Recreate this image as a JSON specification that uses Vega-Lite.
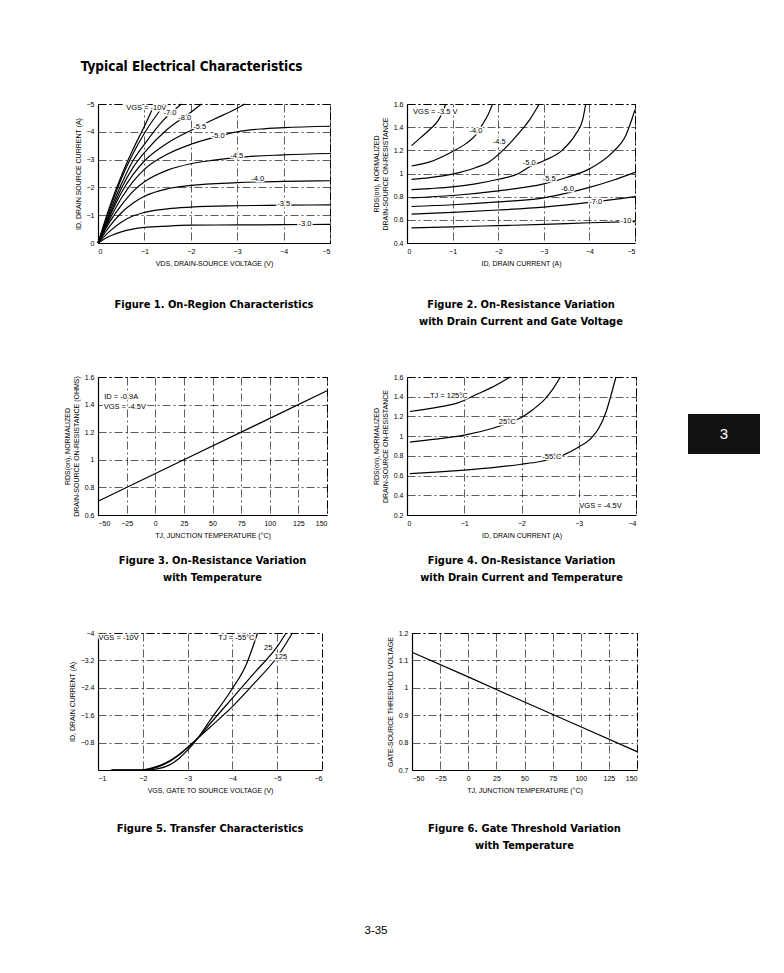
{
  "$schema": "https://vega.github.io/schema/vega-lite/v6.json",
  "background": "white",
  "padding": {"left": 62, "top": 60, "right": 0, "bottom": 0},
  "title": {"text": "Typical Electrical Characteristics", "anchor": "start", "font": "DejaVu Sans Condensed, Liberation Sans", "fontSize": 13.5, "fontWeight": "bold", "offset": 26, "dx": 18},
  "datasets": {
    "p1": [
      {"c":"a","v":0,"i":0},{"c":"a","v":-0.25,"i":-1.3},{"c":"a","v":-0.5,"i":-2.4},{"c":"a","v":-0.75,"i":-3.35},{"c":"a","v":-1.0,"i":-4.2},{"c":"a","v":-1.22,"i":-5.0},
      {"c":"b","v":0,"i":0},{"c":"b","v":-0.25,"i":-1.2},{"c":"b","v":-0.5,"i":-2.3},{"c":"b","v":-0.75,"i":-3.2},{"c":"b","v":-1.0,"i":-3.95},{"c":"b","v":-1.44,"i":-5.0},
      {"c":"c","v":0,"i":0},{"c":"c","v":-0.25,"i":-1.1},{"c":"c","v":-0.5,"i":-2.1},{"c":"c","v":-0.75,"i":-2.95},{"c":"c","v":-1.0,"i":-3.55},{"c":"c","v":-1.4,"i":-4.4},{"c":"c","v":-1.8,"i":-5.0},
      {"c":"d","v":0,"i":0},{"c":"d","v":-0.25,"i":-1.0},{"c":"d","v":-0.5,"i":-1.95},{"c":"d","v":-0.75,"i":-2.7},{"c":"d","v":-1.0,"i":-3.25},{"c":"d","v":-1.5,"i":-4.1},{"c":"d","v":-2.0,"i":-4.7},{"c":"d","v":-2.23,"i":-5.0},
      {"c":"e","v":0,"i":0},{"c":"e","v":-0.25,"i":-0.95},{"c":"e","v":-0.5,"i":-1.8},{"c":"e","v":-0.75,"i":-2.45},{"c":"e","v":-1.0,"i":-2.95},{"c":"e","v":-1.5,"i":-3.6},{"c":"e","v":-2.0,"i":-4.05},{"c":"e","v":-2.5,"i":-4.45},{"c":"e","v":-3.0,"i":-4.85},{"c":"e","v":-3.17,"i":-5.0},
      {"c":"f","v":0,"i":0},{"c":"f","v":-0.25,"i":-0.85},{"c":"f","v":-0.5,"i":-1.6},{"c":"f","v":-0.75,"i":-2.2},{"c":"f","v":-1.0,"i":-2.65},{"c":"f","v":-1.5,"i":-3.2},{"c":"f","v":-2.0,"i":-3.55},{"c":"f","v":-2.5,"i":-3.8},{"c":"f","v":-3.0,"i":-4.0},{"c":"f","v":-3.5,"i":-4.1},{"c":"f","v":-4.0,"i":-4.15},{"c":"f","v":-5.0,"i":-4.2},
      {"c":"g","v":0,"i":0},{"c":"g","v":-0.25,"i":-0.75},{"c":"g","v":-0.5,"i":-1.35},{"c":"g","v":-0.75,"i":-1.85},{"c":"g","v":-1.0,"i":-2.2},{"c":"g","v":-1.5,"i":-2.62},{"c":"g","v":-2.0,"i":-2.85},{"c":"g","v":-2.5,"i":-2.98},{"c":"g","v":-3.0,"i":-3.08},{"c":"g","v":-4.0,"i":-3.17},{"c":"g","v":-5.0,"i":-3.22},
      {"c":"h","v":0,"i":0},{"c":"h","v":-0.25,"i":-0.6},{"c":"h","v":-0.5,"i":-1.08},{"c":"h","v":-0.75,"i":-1.43},{"c":"h","v":-1.0,"i":-1.68},{"c":"h","v":-1.5,"i":-1.95},{"c":"h","v":-2.0,"i":-2.07},{"c":"h","v":-3.0,"i":-2.17},{"c":"h","v":-4.0,"i":-2.22},{"c":"h","v":-5.0,"i":-2.24},
      {"c":"i","v":0,"i":0},{"c":"i","v":-0.25,"i":-0.42},{"c":"i","v":-0.5,"i":-0.75},{"c":"i","v":-0.75,"i":-0.97},{"c":"i","v":-1.0,"i":-1.1},{"c":"i","v":-1.5,"i":-1.23},{"c":"i","v":-2.0,"i":-1.29},{"c":"i","v":-3.0,"i":-1.34},{"c":"i","v":-4.0,"i":-1.36},{"c":"i","v":-5.0,"i":-1.37},
      {"c":"j","v":0,"i":0},{"c":"j","v":-0.25,"i":-0.24},{"c":"j","v":-0.5,"i":-0.4},{"c":"j","v":-0.75,"i":-0.5},{"c":"j","v":-1.0,"i":-0.56},{"c":"j","v":-1.5,"i":-0.61},{"c":"j","v":-2.0,"i":-0.64},{"c":"j","v":-3.0,"i":-0.65},{"c":"j","v":-4.0,"i":-0.66},{"c":"j","v":-5.0,"i":-0.67}
    ],
    "p1l": [
      {"t":"VGS = -10V","v":-1.04,"i":-4.85},
      {"t":"-7.0","v":-1.55,"i":-4.66},
      {"t":"-8.0","v":-1.87,"i":-4.51},
      {"t":"-5.5","v":-2.19,"i":-4.18},
      {"t":"-5.0","v":-2.59,"i":-3.84},
      {"t":"-4.5","v":-2.99,"i":-3.13},
      {"t":"-4.0","v":-3.44,"i":-2.3},
      {"t":"-3.5","v":-4.0,"i":-1.42},
      {"t":"-3.0","v":-4.46,"i":-0.67}
    ],
    "p2": [
      {"c":"-3.5","x":-0.1,"y":1.24},{"c":"-3.5","x":-0.3,"y":1.31},{"c":"-3.5","x":-0.5,"y":1.38},{"c":"-3.5","x":-0.67,"y":1.45},{"c":"-3.5","x":-0.77,"y":1.52},{"c":"-3.5","x":-0.85,"y":1.6},
      {"c":"-4.0","x":-0.1,"y":1.065},{"c":"-4.0","x":-0.5,"y":1.1},{"c":"-4.0","x":-1.0,"y":1.19},{"c":"-4.0","x":-1.3,"y":1.26},{"c":"-4.0","x":-1.5,"y":1.33},{"c":"-4.0","x":-1.65,"y":1.42},{"c":"-4.0","x":-1.78,"y":1.51},{"c":"-4.0","x":-1.88,"y":1.6},
      {"c":"-4.5","x":-0.1,"y":0.95},{"c":"-4.5","x":-0.5,"y":0.965},{"c":"-4.5","x":-1.0,"y":0.995},{"c":"-4.5","x":-1.5,"y":1.05},{"c":"-4.5","x":-1.8,"y":1.1},{"c":"-4.5","x":-2.05,"y":1.18},{"c":"-4.5","x":-2.3,"y":1.28},{"c":"-4.5","x":-2.5,"y":1.37},{"c":"-4.5","x":-2.7,"y":1.47},{"c":"-4.5","x":-2.9,"y":1.6},
      {"c":"-5.0","x":-0.1,"y":0.86},{"c":"-5.0","x":-0.5,"y":0.87},{"c":"-5.0","x":-1.0,"y":0.885},{"c":"-5.0","x":-1.5,"y":0.91},{"c":"-5.0","x":-2.0,"y":0.95},{"c":"-5.0","x":-2.45,"y":1.0},{"c":"-5.0","x":-2.7,"y":1.06},{"c":"-5.0","x":-3.0,"y":1.11},{"c":"-5.0","x":-3.4,"y":1.2},{"c":"-5.0","x":-3.7,"y":1.34},{"c":"-5.0","x":-3.85,"y":1.46},{"c":"-5.0","x":-3.92,"y":1.6},
      {"c":"-5.5","x":-0.1,"y":0.79},{"c":"-5.5","x":-1.0,"y":0.81},{"c":"-5.5","x":-2.0,"y":0.85},{"c":"-5.5","x":-3.0,"y":0.91},{"c":"-5.5","x":-3.5,"y":0.965},{"c":"-5.5","x":-4.0,"y":1.04},{"c":"-5.5","x":-4.5,"y":1.18},{"c":"-5.5","x":-4.8,"y":1.33},{"c":"-5.5","x":-5.0,"y":1.55},
      {"c":"-6.0","x":-0.1,"y":0.715},{"c":"-6.0","x":-1.0,"y":0.73},{"c":"-6.0","x":-2.0,"y":0.755},{"c":"-6.0","x":-3.0,"y":0.79},{"c":"-6.0","x":-3.5,"y":0.83},{"c":"-6.0","x":-4.0,"y":0.88},{"c":"-6.0","x":-4.5,"y":0.94},{"c":"-6.0","x":-5.0,"y":1.01},
      {"c":"-7.0","x":-0.1,"y":0.65},{"c":"-7.0","x":-1.0,"y":0.665},{"c":"-7.0","x":-2.0,"y":0.685},{"c":"-7.0","x":-3.0,"y":0.71},{"c":"-7.0","x":-4.0,"y":0.75},{"c":"-7.0","x":-5.0,"y":0.8},
      {"c":"-10","x":-0.1,"y":0.53},{"c":"-10","x":-1.0,"y":0.54},{"c":"-10","x":-2.0,"y":0.55},{"c":"-10","x":-3.0,"y":0.56},{"c":"-10","x":-4.0,"y":0.575},{"c":"-10","x":-5.0,"y":0.585}
    ],
    "p2l": [
      {"t":"VGS = -3.5 V","x":-0.62,"y":1.53},
      {"t":"-4.0","x":-1.51,"y":1.37},
      {"t":"-4.5","x":-2.02,"y":1.27},
      {"t":"-5.0","x":-2.68,"y":1.09},
      {"t":"-5.5","x":-3.12,"y":0.955},
      {"t":"-6.0","x":-3.52,"y":0.87},
      {"t":"-7.0","x":-4.14,"y":0.75},
      {"t":"-10","x":-4.8,"y":0.594}
    ],
    "p3": [
      {"x":-50,"y":0.7},{"x":25,"y":1.0},{"x":100,"y":1.3},{"x":150,"y":1.5}
    ],
    "p3l": [
      {"t":"ID = -0.9A","x":-29.7,"y":1.455},
      {"t":"VGS = -4.5V","x":-26.6,"y":1.382}
    ],
    "p4": [
      {"c":"125","x":-0.05,"y":1.25},{"c":"125","x":-0.5,"y":1.29},{"c":"125","x":-0.9,"y":1.34},{"c":"125","x":-1.2,"y":1.42},{"c":"125","x":-1.5,"y":1.5},{"c":"125","x":-1.8,"y":1.6},
      {"c":"25","x":-0.05,"y":0.94},{"c":"25","x":-0.5,"y":0.97},{"c":"25","x":-1.0,"y":1.01},{"c":"25","x":-1.5,"y":1.08},{"c":"25","x":-1.8,"y":1.14},{"c":"25","x":-2.0,"y":1.19},{"c":"25","x":-2.2,"y":1.27},{"c":"25","x":-2.4,"y":1.37},{"c":"25","x":-2.55,"y":1.48},{"c":"25","x":-2.68,"y":1.6},
      {"c":"-55","x":-0.05,"y":0.62},{"c":"-55","x":-0.5,"y":0.635},{"c":"-55","x":-1.0,"y":0.655},{"c":"-55","x":-1.5,"y":0.68},{"c":"-55","x":-2.0,"y":0.715},{"c":"-55","x":-2.3,"y":0.74},{"c":"-55","x":-2.7,"y":0.8},{"c":"-55","x":-3.0,"y":0.89},{"c":"-55","x":-3.2,"y":0.97},{"c":"-55","x":-3.35,"y":1.08},{"c":"-55","x":-3.48,"y":1.25},{"c":"-55","x":-3.58,"y":1.45},{"c":"-55","x":-3.65,"y":1.6}
    ],
    "p4l": [
      {"t":"TJ = 125°C","x":-0.73,"y":1.41},
      {"t":"25°C","x":-1.75,"y":1.142},
      {"t":"-55°C","x":-2.53,"y":0.785},
      {"t":"VGS = -4.5V","x":-3.38,"y":0.293}
    ],
    "p5": [
      {"c":"125","x":-1.3,"y":0},{"c":"125","x":-1.9,"y":0},{"c":"125","x":-2.1,"y":-0.03},{"c":"125","x":-2.3,"y":-0.1},{"c":"125","x":-2.5,"y":-0.2},{"c":"125","x":-2.7,"y":-0.35},{"c":"125","x":-2.9,"y":-0.55},{"c":"125","x":-3.1,"y":-0.78},{"c":"125","x":-3.5,"y":-1.25},{"c":"125","x":-4.0,"y":-1.85},{"c":"125","x":-4.5,"y":-2.55},{"c":"125","x":-5.0,"y":-3.3},{"c":"125","x":-5.34,"y":-4.0},
      {"c":"25","x":-1.3,"y":0},{"c":"25","x":-2.0,"y":0},{"c":"25","x":-2.2,"y":-0.04},{"c":"25","x":-2.4,"y":-0.12},{"c":"25","x":-2.6,"y":-0.25},{"c":"25","x":-2.8,"y":-0.43},{"c":"25","x":-3.0,"y":-0.65},{"c":"25","x":-3.15,"y":-0.82},{"c":"25","x":-3.5,"y":-1.35},{"c":"25","x":-4.0,"y":-2.1},{"c":"25","x":-4.5,"y":-2.85},{"c":"25","x":-5.0,"y":-3.6},{"c":"25","x":-5.2,"y":-4.0},
      {"c":"-55","x":-1.3,"y":0},{"c":"-55","x":-2.1,"y":0},{"c":"-55","x":-2.35,"y":-0.04},{"c":"-55","x":-2.6,"y":-0.15},{"c":"-55","x":-2.8,"y":-0.33},{"c":"-55","x":-3.0,"y":-0.58},{"c":"-55","x":-3.15,"y":-0.8},{"c":"-55","x":-3.5,"y":-1.45},{"c":"-55","x":-4.0,"y":-2.38},{"c":"-55","x":-4.3,"y":-3.05},{"c":"-55","x":-4.56,"y":-4.0}
    ],
    "p5l": [
      {"t":"VGS = -10V","x":-1.46,"y":-3.85},
      {"t":"TJ = -55°C","x":-4.09,"y":-3.85},
      {"t":"25","x":-4.8,"y":-3.56},
      {"t":"125","x":-5.08,"y":-3.31}
    ],
    "p6": [
      {"x":-50,"y":1.13},{"x":0,"y":1.04},{"x":50,"y":0.948},{"x":100,"y":0.858},{"x":150,"y":0.767}
    ]
  },
  "spacing": 44,
  "vconcat": [
    {
      "hconcat": [
        {
          "width": 232, "height": 139,
          "title": {"text": "Figure 1. On-Region Characteristics", "orient": "bottom", "offset": 33},
          "encoding": {
            "x": {"field": "v", "type": "quantitative", "scale": {"domain": [0, -5], "nice": false, "zero": false}, "axis": {"values": [0, -1, -2, -3, -4, -5], "labelExpr": "format(datum.value, '~g')", "title": "VDS, DRAIN-SOURCE VOLTAGE (V)"}},
            "y": {"field": "i", "type": "quantitative", "scale": {"domain": [0, -5], "nice": false, "zero": false}, "axis": {"values": [0, -1, -2, -3, -4, -5], "labelExpr": "format(datum.value, '~g')", "title": "ID, DRAIN SOURCE CURRENT (A)"}}
          },
          "layer": [
            {"data": {"name": "p1"}, "mark": {"type": "line", "interpolate": "monotone"}, "encoding": {"detail": {"field": "c"}}},
            {"data": {"name": "p1l"}, "mark": {"type": "text", "fill": "white", "stroke": "white", "strokeWidth": 3, "strokeJoin": "round"}, "encoding": {"text": {"field": "t"}}},
            {"data": {"name": "p1l"}, "mark": {"type": "text"}, "encoding": {"text": {"field": "t"}}}
          ]
        },
        {
          "width": 228, "height": 139,
          "title": {"text": ["Figure 2. On-Resistance Variation", "with Drain Current and Gate Voltage"], "orient": "bottom", "offset": 33},
          "encoding": {
            "x": {"field": "x", "type": "quantitative", "scale": {"domain": [0, -5], "nice": false, "zero": false}, "axis": {"values": [0, -1, -2, -3, -4, -5], "labelExpr": "format(datum.value, '~g')", "title": "ID, DRAIN CURRENT (A)"}},
            "y": {"field": "y", "type": "quantitative", "scale": {"domain": [0.4, 1.6], "nice": false, "zero": false}, "axis": {"values": [0.4, 0.6, 0.8, 1, 1.2, 1.4, 1.6], "labelExpr": "format(datum.value, '~g')", "title": ["RDS(on), NORMALIZED", "DRAIN-SOURCE ON-RESISTANCE"]}}
          },
          "layer": [
            {"data": {"name": "p2"}, "mark": {"type": "line", "interpolate": "monotone"}, "encoding": {"detail": {"field": "c"}}},
            {"data": {"name": "p2l"}, "mark": {"type": "text", "fill": "white", "stroke": "white", "strokeWidth": 3, "strokeJoin": "round"}, "encoding": {"text": {"field": "t"}}},
            {"data": {"name": "p2l"}, "mark": {"type": "text"}, "encoding": {"text": {"field": "t"}}}
          ]
        }
      ],
      "spacing": 38
    },
    {
      "hconcat": [
        {
          "hconcat": [
            {
              "width": 229, "height": 138,
              "title": {"text": ["Figure 3. On-Resistance Variation", "with Temperature"], "orient": "bottom", "offset": 17},
              "encoding": {
                "x": {"field": "x", "type": "quantitative", "scale": {"domain": [-50, 150], "nice": false, "zero": false}, "axis": {"values": [-50, -25, 0, 25, 50, 75, 100, 125, 150], "labelExpr": "format(datum.value, '~g')", "title": "TJ, JUNCTION TEMPERATURE (°C)"}},
                "y": {"field": "y", "type": "quantitative", "scale": {"domain": [0.6, 1.6], "nice": false, "zero": false}, "axis": {"values": [0.6, 0.8, 1, 1.2, 1.4, 1.6], "labelExpr": "format(datum.value, '~g')", "title": ["RDS(on), NORMALIZED", "DRAIN-SOURCE ON-RESISTANCE (OHMS)"]}}
              },
              "layer": [
                {"data": {"name": "p3"}, "mark": {"type": "line"}},
                {"data": {"name": "p3l"}, "mark": {"type": "text", "fill": "white", "stroke": "white", "strokeWidth": 3, "strokeJoin": "round"}, "encoding": {"text": {"field": "t"}}},
                {"data": {"name": "p3l"}, "mark": {"type": "text"}, "encoding": {"text": {"field": "t"}}}
              ]
            },
            {
              "width": 229, "height": 138,
              "title": {"text": ["Figure 4. On-Resistance Variation", "with Drain Current and Temperature"], "orient": "bottom", "offset": 17},
              "encoding": {
                "x": {"field": "x", "type": "quantitative", "scale": {"domain": [0, -4], "nice": false, "zero": false}, "axis": {"values": [0, -1, -2, -3, -4], "labelExpr": "format(datum.value, '~g')", "title": "ID, DRAIN CURRENT (A)"}},
                "y": {"field": "y", "type": "quantitative", "scale": {"domain": [0.2, 1.6], "nice": false, "zero": false}, "axis": {"values": [0.2, 0.4, 0.6, 0.8, 1, 1.2, 1.4, 1.6], "labelExpr": "format(datum.value, '~g')", "title": ["RDS(on), NORMALIZED", "DRAIN-SOURCE ON-RESISTANCE"]}}
              },
              "layer": [
                {"data": {"name": "p4"}, "mark": {"type": "line", "interpolate": "monotone"}, "encoding": {"detail": {"field": "c"}}},
                {"data": {"name": "p4l"}, "mark": {"type": "text", "fill": "white", "stroke": "white", "strokeWidth": 3, "strokeJoin": "round"}, "encoding": {"text": {"field": "t"}}},
                {"data": {"name": "p4l"}, "mark": {"type": "text"}, "encoding": {"text": {"field": "t"}}}
              ]
            }
          ],
          "spacing": 41
        },
        {
          "vconcat": [
            {"width": 72, "height": 27, "view": {"stroke": null}, "data": {"values": [{"t": ""}]}, "mark": {"type": "text"}, "encoding": {"text": {"field": "t"}}},
            {"width": 72, "height": 40, "view": {"stroke": null, "fill": "#111111"}, "data": {"values": [{"t": "3"}]}, "mark": {"type": "text", "color": "white", "fontSize": 15, "font": "Liberation Sans"}, "encoding": {"text": {"field": "t"}}}
          ],
          "spacing": 10
        }
      ],
      "spacing": 51
    },
    {
      "hconcat": [
        {
          "width": 224, "height": 137,
          "title": {"text": "Figure 5. Transfer Characteristics", "orient": "bottom", "offset": 30},
          "encoding": {
            "x": {"field": "x", "type": "quantitative", "scale": {"domain": [-1, -6], "nice": false, "zero": false}, "axis": {"values": [-1, -2, -3, -4, -5, -6], "labelExpr": "format(datum.value, '~g')", "title": "VGS, GATE TO SOURCE VOLTAGE (V)"}},
            "y": {"field": "y", "type": "quantitative", "scale": {"domain": [0, -4], "nice": false, "zero": false}, "axis": {"values": [-0.8, -1.6, -2.4, -3.2, -4], "labelExpr": "format(datum.value, '~g')", "title": "ID, DRAIN CURRENT (A)"}}
          },
          "layer": [
            {"data": {"name": "p5"}, "mark": {"type": "line", "interpolate": "monotone"}, "encoding": {"detail": {"field": "c"}}},
            {"data": {"name": "p5l"}, "mark": {"type": "text", "fill": "white", "stroke": "white", "strokeWidth": 3, "strokeJoin": "round"}, "encoding": {"text": {"field": "t"}}},
            {"data": {"name": "p5l"}, "mark": {"type": "text"}, "encoding": {"text": {"field": "t"}}}
          ]
        },
        {
          "width": 225, "height": 137,
          "title": {"text": ["Figure 6. Gate Threshold Variation", "with Temperature"], "orient": "bottom", "offset": 30},
          "encoding": {
            "x": {"field": "x", "type": "quantitative", "scale": {"domain": [-50, 150], "nice": false, "zero": false}, "axis": {"values": [-50, -25, 0, 25, 50, 75, 100, 125, 150], "labelExpr": "format(datum.value, '~g')", "title": "TJ, JUNCTION TEMPERATURE (°C)"}},
            "y": {"field": "y", "type": "quantitative", "scale": {"domain": [0.7, 1.2], "nice": false, "zero": false}, "axis": {"values": [0.7, 0.8, 0.9, 1, 1.1, 1.2], "labelExpr": "format(datum.value, '~g')", "title": "GATE-SOURCE THRESHOLD VOLTAGE"}}
          },
          "layer": [
            {"data": {"name": "p6"}, "mark": {"type": "line"}}
          ]
        }
      ],
      "spacing": 62
    },
    {
      "width": 556, "height": 70, "view": {"stroke": null},
      "data": {"values": [{"t": "3-35"}]},
      "mark": {"type": "text", "fontSize": 11.5, "font": "Liberation Sans"},
      "encoding": {"text": {"field": "t"}}
    }
  ],
  "config": {
    "font": "Liberation Sans",
    "view": {"stroke": "#000000", "strokeWidth": 1, "strokeDash": [8, 3, 2, 3]},
    "axis": {
      "domainColor": "#000000", "domainWidth": 1.2,
      "grid": true, "gridColor": "#000000", "gridDash": [8, 3, 2, 3], "gridWidth": 0.8, "gridOpacity": 0.8,
      "ticks": false,
      "labelFont": "Liberation Sans", "labelFontSize": 7, "labelColor": "#000000", "labelPadding": 4,
      "titleFont": "Liberation Sans", "titleFontSize": 7, "titleFontWeight": "normal", "titleColor": "#000000", "titlePadding": 5
    },
    "title": {"font": "DejaVu Sans Condensed, Liberation Sans", "fontSize": 11, "fontWeight": "bold", "color": "#000000", "lineHeight": 17},
    "line": {"color": "#000000", "strokeWidth": 1.2},
    "text": {"font": "Liberation Sans", "fontSize": 7.5, "color": "#000000"}
  }
}
